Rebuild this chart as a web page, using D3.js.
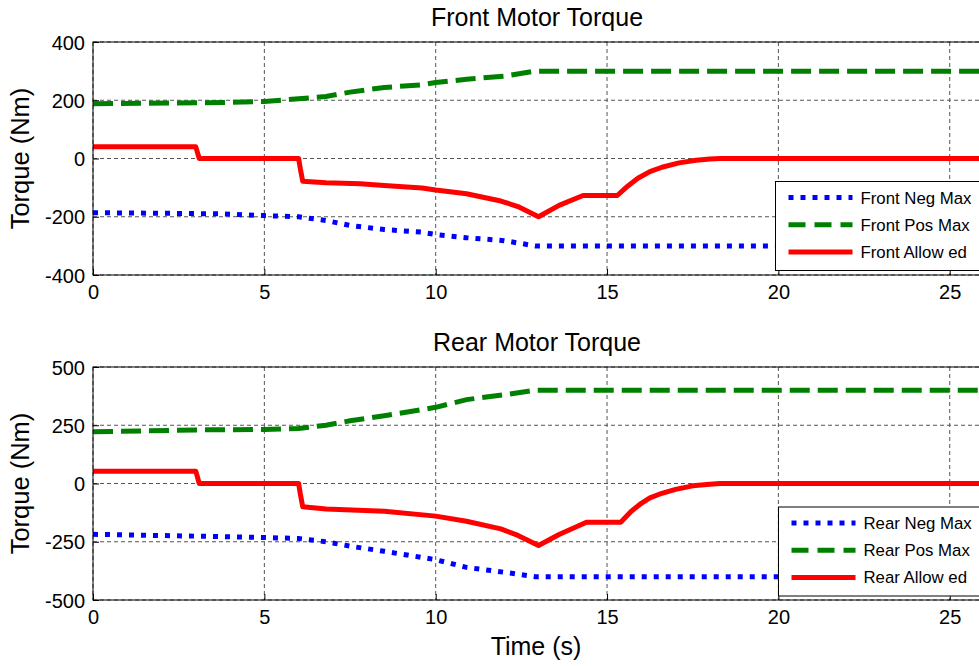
<!DOCTYPE html>
<html>
<head>
<meta charset="utf-8">
<style>
  body { margin: 0; background: #fff; overflow: hidden; }
  svg { display: block; font-family: "Liberation Sans", Arial, sans-serif; }
</style>
</head>
<body>
<div id="container"></div>
<script src="https://cdn.jsdelivr.net/npm/d3@7"></script>
<script>
  // ---- data ----
  const xTicks = [0, 5, 10, 15, 20, 25];

  // front motor
  const frontEnvT = [0, 3.8, 5, 6, 6.8, 7.5, 8.5, 9.6, 10, 10.9, 12, 12.9, 27];
  const frontPosMax = [188, 192, 196, 205, 213, 228, 244, 253, 261, 272, 283, 300, 300];
  const frontNegMax = [-186, -190, -196, -200, -213, -230, -244, -253, -261, -272, -282, -300, -300];
  const frontAllowedT = [0, 3.0, 3.1, 6.0, 6.05, 6.12, 6.8, 7.8, 8.5, 9.6, 10, 10.9, 11.9, 12.4, 13.0, 13.6, 14.3, 15.3, 15.6, 15.9, 16.25, 16.6, 17.1, 17.6, 18.0, 18.3, 27];
  const frontAllowed = [40, 40, 0, 0, -35, -78, -83, -87, -93, -101, -108, -121, -146, -165, -200, -161, -127, -127, -95, -68, -45, -30, -15, -6, -2, 0, 0];
  const frontTicksY = [-400, -200, 0, 200, 400];

  // rear motor
  const rearEnvT = [0, 3, 5, 6, 6.8, 7.5, 8.5, 10, 10.9, 12, 12.9, 27];
  const rearPosMax = [222, 230, 232, 236, 250, 269, 291, 327, 360, 381, 400, 400];
  const rearNegMax = [-218, -226, -232, -236, -250, -269, -291, -327, -360, -381, -400, -400];
  const rearAllowedT = [0, 3.0, 3.1, 6.0, 6.05, 6.12, 6.8, 8.5, 10, 10.9, 11.9, 12.4, 13.0, 13.6, 14.4, 15.4, 15.7, 16.0, 16.25, 16.6, 17.0, 17.5, 18.0, 18.3, 27];
  const rearAllowed = [53, 53, 0, 0, -45, -100, -109, -119, -140, -162, -195, -223, -266, -219, -166, -166, -120, -85, -62, -42, -25, -10, -3, 0, 0];
  const rearTicksY = [-500, -250, 0, 250, 500];

  const W = 979, H = 666;
  const left = 93, right = 984; // right edge of the axes falls just outside the frame

  const svg = d3.select("#container")
    .append("svg")
    .attr("width", W)
    .attr("height", H);

  const x = d3.scaleLinear().domain([0, 26]).range([left, right]);

  const zip = (ts, vs) => ts.map((t, i) => [t, vs[i]]);

  function panel(opt) {
    const y = d3.scaleLinear().domain(opt.yDomain).range([opt.bottom, opt.top]);
    const g = svg.append("g");

    // dashed grid
    g.append("g").selectAll("line")
      .data(xTicks)
      .join("line")
      .attr("x1", d => x(d)).attr("x2", d => x(d))
      .attr("y1", opt.top).attr("y2", opt.bottom)
      .attr("stroke", "#555").attr("stroke-dasharray", "4,3").attr("stroke-width", 1);
    g.append("g").selectAll("line")
      .data(opt.yTicks)
      .join("line")
      .attr("x1", left).attr("x2", right)
      .attr("y1", d => y(d)).attr("y2", d => y(d))
      .attr("stroke", "#555").attr("stroke-dasharray", "4,3").attr("stroke-width", 1);

    const clipId = "clip" + opt.top;
    svg.append("clipPath").attr("id", clipId)
      .append("rect")
      .attr("x", left).attr("y", opt.top - 3)
      .attr("width", right - left).attr("height", opt.bottom - opt.top + 6);

    const line = d3.line().x(d => x(d[0])).y(d => y(d[1]));
    const lines = g.append("g").attr("clip-path", `url(#${clipId})`).attr("fill", "none");

    lines.append("path")
      .attr("d", line(zip(opt.envT, opt.neg)))
      .attr("stroke", "#0000ff").attr("stroke-width", 5)
      .attr("stroke-dasharray", "5,7");
    lines.append("path")
      .attr("d", line(zip(opt.envT, opt.pos)))
      .attr("stroke", "#008000").attr("stroke-width", 5)
      .attr("stroke-dasharray", "20,8");
    lines.append("path")
      .attr("d", line(zip(opt.allowT, opt.allow)))
      .attr("stroke", "#ff0000").attr("stroke-width", 5)
      .attr("stroke-linejoin", "round");

    // axes box + inward ticks
    g.append("rect")
      .attr("x", left).attr("y", opt.top)
      .attr("width", right - left).attr("height", opt.bottom - opt.top)
      .attr("fill", "none").attr("stroke", "#000").attr("stroke-width", 1);

    const xa = g.append("g")
      .attr("transform", `translate(0,${opt.bottom})`)
      .call(d3.axisBottom(x).tickValues(xTicks).tickFormat(d => String(d))
        .tickSizeInner(-6).tickSizeOuter(0).tickPadding(10));
    const ya = g.append("g")
      .attr("transform", `translate(${left},0)`)
      .call(d3.axisLeft(y).tickValues(opt.yTicks).tickFormat(d => String(d))
        .tickSizeInner(-6).tickSizeOuter(0).tickPadding(8));
    [xa, ya].forEach(a => {
      a.select(".domain").remove();
      a.selectAll("text").attr("font-size", 20).attr("fill", "#000")
        .attr("font-family", "Liberation Sans, Arial, sans-serif");
    });
    ya.selectAll("text").attr("dy", "0.36em");

    // title and y label
    g.append("text")
      .attr("x", 537).attr("y", opt.top - 16.5)
      .attr("text-anchor", "middle").attr("font-size", 25)
      .text(opt.title);
    g.append("text")
      .attr("transform", `translate(29,${(opt.top + opt.bottom) / 2}) rotate(-90)`)
      .attr("text-anchor", "middle").attr("font-size", 25.5)
      .text("Torque (Nm)");

    // legend
    const lg = g.append("g").attr("transform", `translate(${opt.legX},${opt.legY})`);
    lg.append("rect")
      .attr("width", 240).attr("height", 89)
      .attr("fill", "#fff").attr("stroke", "#000").attr("stroke-width", 1);
    const items = [
      { name: opt.names[0], color: "#0000ff", dash: "5,7" },
      { name: opt.names[1], color: "#008000", dash: "17,9" },
      { name: opt.names[2], color: "#ff0000", dash: null }
    ];
    items.forEach((it, i) => {
      const cy = 16 + i * 27.2;
      lg.append("line")
        .attr("x1", 13).attr("x2", 77).attr("y1", cy).attr("y2", cy)
        .attr("stroke", it.color).attr("stroke-width", 5)
        .attr("stroke-dasharray", it.dash);
      lg.append("text")
        .attr("x", 85).attr("y", cy).attr("dy", "0.36em")
        .attr("font-size", 16.8)
        .text(it.name);
    });
  }

  panel({
    top: 42, bottom: 275, yDomain: [-400, 400], yTicks: frontTicksY,
    envT: frontEnvT, pos: frontPosMax, neg: frontNegMax,
    allowT: frontAllowedT, allow: frontAllowed,
    title: "Front Motor Torque",
    names: ["Front Neg Max", "Front Pos Max", "Front Allow ed"],
    legX: 775.5, legY: 181.5
  });

  panel({
    top: 367, bottom: 600, yDomain: [-500, 500], yTicks: rearTicksY,
    envT: rearEnvT, pos: rearPosMax, neg: rearNegMax,
    allowT: rearAllowedT, allow: rearAllowed,
    title: "Rear Motor Torque",
    names: ["Rear Neg Max", "Rear Pos Max", "Rear Allow ed"],
    legX: 778.5, legY: 507
  });

  svg.append("text")
    .attr("x", 536).attr("y", 655)
    .attr("text-anchor", "middle").attr("font-size", 25)
    .text("Time (s)");
</script>
</body>
</html>
